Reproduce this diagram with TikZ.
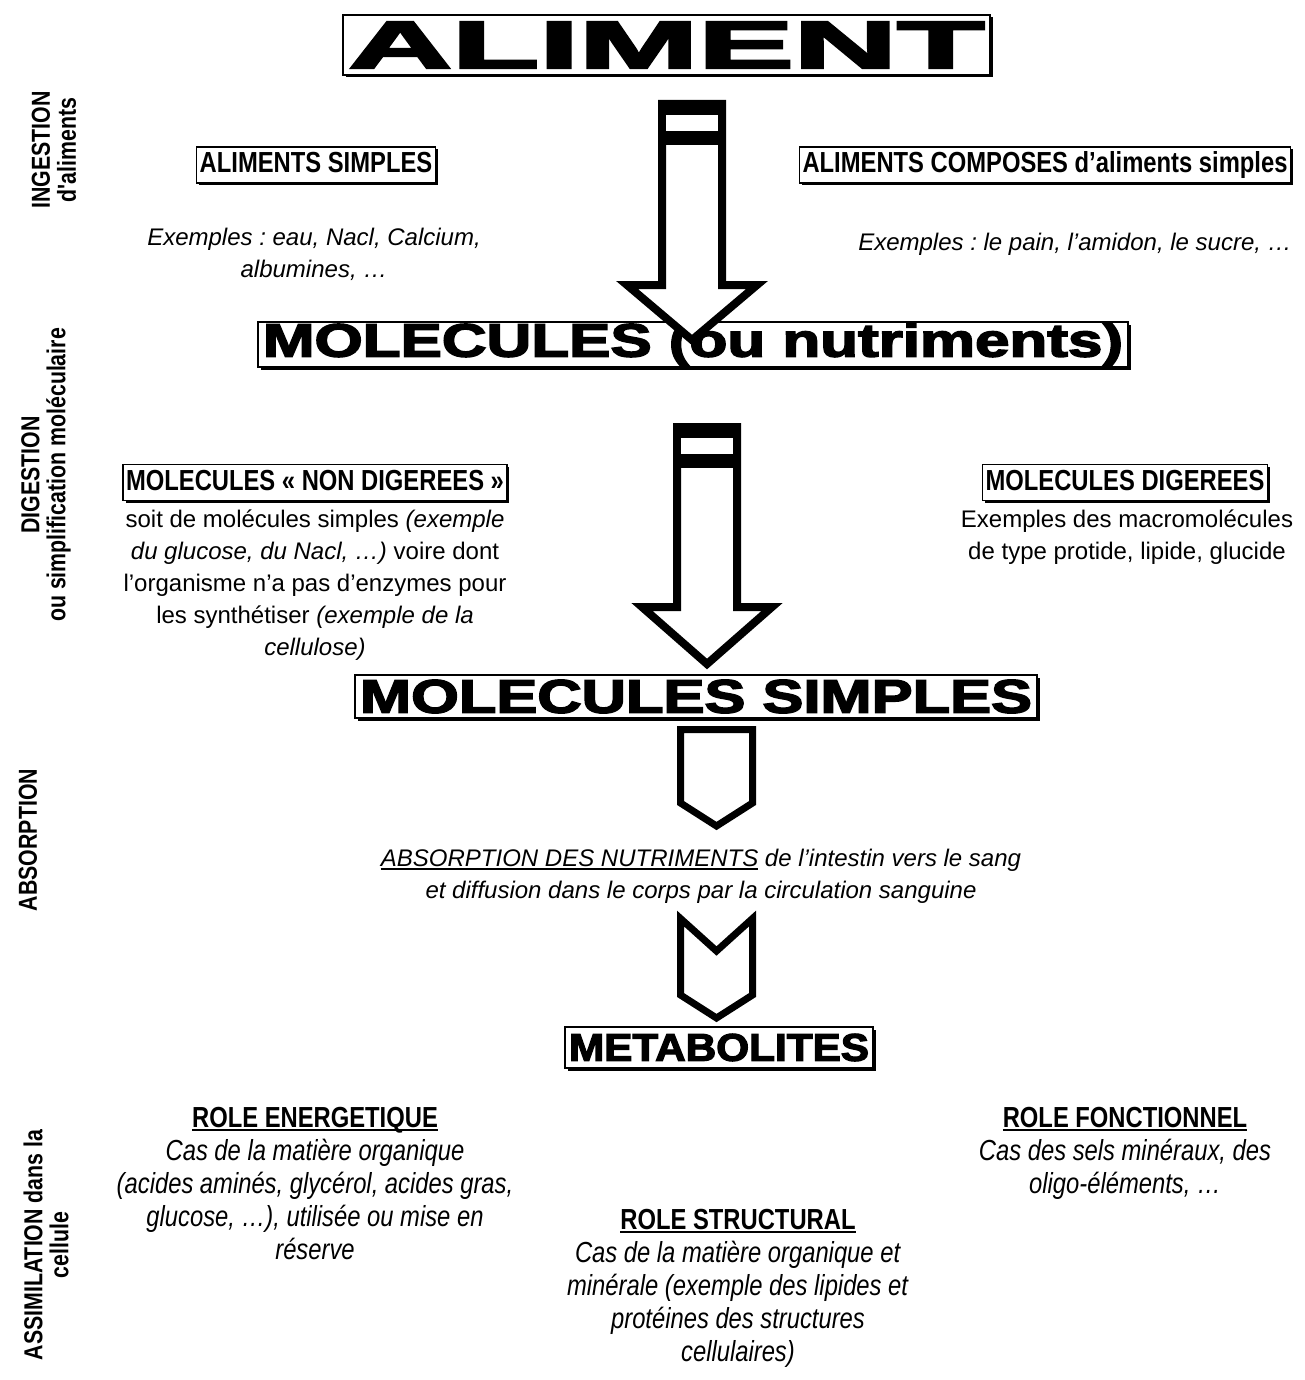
\documentclass[tikz,border=0pt]{standalone}
\usepackage{fontspec}
\setmainfont{Liberation Sans}
\newfontfamily\narrowfont[FakeStretch=0.82]{Liberation Sans}
\newfontfamily\heavyfont[FakeBold=3]{Liberation Sans Bold}
\newcommand\myul[1]{\setbox0\hbox{#1}\rlap{\rule[-3.5pt]{\wd0}{2pt}}\box0\relax}
\frenchspacing
\usetikzlibrary{shadows}
\begin{document}
\begin{tikzpicture}[x=1pt,y=-1pt,
  hbox/.style={draw, line width=1.5pt, fill=white,
    drop shadow={shadow xshift=2.5pt,shadow yshift=-2.5pt,fill=black,opacity=1},
    font=\narrowfont\bfseries\fontsize{29}{33}\selectfont,
    inner xsep=3pt, inner ysep=5pt, text height=21pt, text depth=5pt},
  bigbox/.style={draw, line width=1.5pt, fill=white,
    drop shadow={shadow xshift=2.5pt,shadow yshift=-2.5pt,fill=black,opacity=1},
    inner sep=0pt, font=\heavyfont\fontsize{40}{40}\selectfont},
  body/.style={font=\fontsize{24}{32}\selectfont, align=center, inner sep=0pt, anchor=north},
  role/.style={font=\narrowfont\fontsize{29}{33}\selectfont, align=center, inner sep=0pt, anchor=north},
  side/.style={font=\narrowfont\bfseries\fontsize{26}{26}\selectfont, align=center, rotate=90, inner sep=0pt},
  blockarrow/.style={line width=8pt, fill=white, line join=miter, miter limit=10},
  smallarrow/.style={line width=7pt, fill=white, line join=miter, miter limit=10}
]
\useasboundingbox (0,0) rectangle (1305,1380);

% side labels
\node[side] (ing) at (54,150) {INGESTION\\d'aliments};
\node[side] (dig) at (46,475) {DIGESTION\\ou simplification moléculaire};
\node[side] (abs) at (28,840) {ABSORPTION};
\node[side] (ass) at (46,1245) {ASSIMILATION dans la\\cellule};

% main title boxes
\node[bigbox, minimum width=647pt, minimum height=60pt] (aliment) at (666.5,45)
  {\resizebox{636pt}{46pt}{ALIMENT}};
\node[bigbox, minimum width=870pt, minimum height=45pt] (molec) at (693,344.5)
  {\resizebox{860pt}{34pt}{MOLECULES (ou nutriments)}};
\node[bigbox, minimum width=682pt, minimum height=43pt] (simples) at (696,696.5)
  {\resizebox{672pt}{33pt}{MOLECULES SIMPLES}};
\node[bigbox, minimum width=308pt, minimum height=41pt] (metab) at (719,1047.5)
  {\resizebox{300pt}{27pt}{METABOLITES}};

% ingestion row
\node[hbox] (alsimp) at (316,165) {ALIMENTS SIMPLES};
\node[hbox] (alcomp) at (1045,165) {ALIMENTS COMPOSES d’aliments simples};
\node[body] (ex1) at (314,227.5) {\textit{Exemples : eau, Nacl, Calcium,}\\\textit{albumines, …}};
\node[body] (ex2) at (1075,232.5) {\textit{Exemples : le pain, l’amidon, le sucre, …}};

% digestion row
\node[hbox] (nondig) at (315,482.5) {MOLECULES « NON DIGEREES »};
\node[body] (ndtext) at (315,510) {soit de molécules simples \textit{(exemple}\\
  \textit{du glucose, du Nacl, …)} voire dont\\
  l’organisme n’a pas d’enzymes pour\\
  les synthétiser \textit{(exemple de la}\\
  \textit{cellulose)}};
\node[hbox] (dig2) at (1125,482.5) {MOLECULES DIGEREES};
\node[body] (dgtext) at (1127,510) {Exemples des macromolécules\\de type protide, lipide, glucide};

% absorption
\node[body] (abstext) at (701,848.5) {\textit{\myul{ABSORPTION DES NUTRIMENTS} de l’intestin vers le sang}\\
  \textit{et diffusion dans le corps par la circulation sanguine}};

% roles
\node[role] (rene) at (315,1107) {\textbf{\myul{ROLE ENERGETIQUE}}\\
  \textit{Cas de la matière organique}\\
  \textit{(acides aminés, glycérol, acides gras,}\\
  \textit{glucose, …), utilisée ou mise en}\\
  \textit{réserve}};
\node[role] (rfon) at (1125,1107) {\textbf{\myul{ROLE FONCTIONNEL}}\\
  \textit{Cas des sels minéraux, des}\\
  \textit{oligo-éléments, …}};
\node[role] (rstr) at (738,1209) {\textbf{\myul{ROLE STRUCTURAL}}\\
  \textit{Cas de la matière organique et}\\
  \textit{minérale (exemple des lipides et}\\
  \textit{protéines des structures}\\
  \textit{cellulaires)}};

% block arrow 1 (ALIMENT -> MOLECULES)
\draw[blockarrow] (662,104) -- (722,104) -- (722,285) -- (757,285) -- (692,340)
  -- (627,285) -- (662,285) -- cycle;
\fill (658,100) rectangle (726,145);
\fill[white] (666,115) rectangle (718,131);

% block arrow 2 (MOLECULES -> MOLECULES SIMPLES)
\draw[blockarrow] (677,427) -- (737,427) -- (737,607) -- (772,607) -- (707,664)
  -- (642,607) -- (677,607) -- cycle;
\fill (673,423) rectangle (741,468);
\fill[white] (681,438) rectangle (733,454);

% pentagon arrow
\draw[smallarrow] (680.5,729.5) -- (752.5,729.5) -- (752.5,803) -- (716.5,826)
  -- (680.5,803) -- cycle;

% chevron arrow
\draw[smallarrow] (680.5,918.5) -- (716.5,951) -- (752.5,918.5) -- (752.5,995)
  -- (716.5,1018) -- (680.5,995) -- cycle;
\end{tikzpicture}
\end{document}
